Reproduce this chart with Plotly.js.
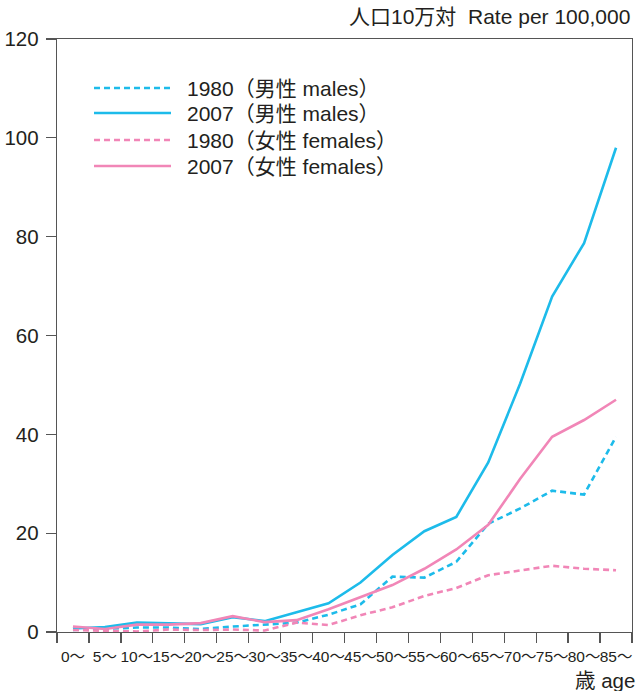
<!DOCTYPE html>
<html>
<head>
<meta charset="utf-8">
<script src="https://cdn.plot.ly/plotly-3.0.1.min.js"></script>
<style>html,body{margin:0;padding:0;background:#fff;}#chart{width:636px;height:691px;}</style>
</head>
<body>
<div id="chart"></div>
<script>
var ageGroups = ["0〜","5〜","10〜","15〜","20〜","25〜","30〜","35〜","40〜","45〜","50〜","55〜","60〜","65〜","70〜","75〜","80〜","85〜"];
var males1980   = [0.4, 0.6, 0.9, 0.9, 0.6, 1.1, 1.5, 1.9, 3.5, 5.6, 11.2, 11.0, 14.2, 21.9, 25.0, 28.6, 27.8, 39.5];
var males2007   = [0.7, 1.0, 1.9, 1.8, 1.6, 3.0, 2.2, 4.0, 5.8, 10.0, 15.6, 20.4, 23.3, 34.3, 50.3, 67.9, 78.7, 98.0];
var females1980 = [0.4, 0.2, 0.1, 0.5, 0.4, 0.5, 0.3, 1.9, 1.4, 3.4, 5.0, 7.3, 8.9, 11.5, 12.5, 13.4, 12.8, 12.5];
var females2007 = [1.1, 0.6, 1.5, 1.5, 1.8, 3.2, 2.0, 2.4, 4.6, 7.0, 9.5, 12.8, 16.7, 21.7, 31.0, 39.5, 42.9, 47.0];
var seriesNames = ["1980（男性 males）","2007（男性 males）","1980（女性 females）","2007（女性 females）"];

var BLUE = "#1dbbea", PINK = "#f186b7";
var FONT = "Liberation Sans, Arial, Noto Sans CJK JP, sans-serif";
var TXT = "#231f20";
var DASH = "6px,4px";

var styles = [
  {color: BLUE, dash: DASH},
  {color: BLUE, dash: "solid"},
  {color: PINK, dash: DASH},
  {color: PINK, dash: "solid"}
];
var data = [males1980, males2007, females1980, females2007];

var traces = data.map(function(v, i){
  return {x: ageGroups, y: v, type: "scatter", mode: "lines", name: seriesNames[i],
    line: {color: styles[i].color, width: 2.6, dash: styles[i].dash}, showlegend: false};
});

// custom legend (px -> paper)
var L = 57, R = 632, T = 39, B = 632;
function px(x){ return (x - L) / (R - L); }
function py(y){ return (B - y) / (B - T); }
var rows = [88, 113, 140, 166];
var shapes = [], annotations = [];
rows.forEach(function(y, i){
  shapes.push({type: "line", xref: "paper", yref: "paper", x0: px(94), x1: px(171), y0: py(y), y1: py(y),
    line: {color: styles[i].color, width: 2.6, dash: styles[i].dash}});
  annotations.push({xref: "paper", yref: "paper", x: px(185), y: py(y), xanchor: "left", yanchor: "middle",
    text: seriesNames[i], showarrow: false, font: {family: FONT, size: 21, color: TXT}});
});
annotations.push({xref: "paper", yref: "paper", x: px(632), y: py(17), xanchor: "right", yanchor: "middle",
  text: "人口10万対  Rate per 100,000", showarrow: false, font: {family: FONT, size: 21, color: TXT}});
annotations.push({xref: "paper", yref: "paper", x: px(637), y: py(680), xanchor: "right", yanchor: "middle",
  text: "歳 age", showarrow: false, font: {family: FONT, size: 20.5, color: TXT}});

var layout = {
  width: 636, height: 691,
  margin: {l: 57, r: 4, t: 39, b: 59},
  paper_bgcolor: "#fff", plot_bgcolor: "#fff",
  font: {family: FONT, color: TXT},
  showlegend: false,
  xaxis: {
    type: "category", range: [-0.5, 17.5], tickson: "boundaries",
    ticks: "outside", ticklen: 10, tickwidth: 1.3, tickcolor: "#555",
    showline: true, linecolor: "#555", linewidth: 1.3, mirror: true,
    showgrid: false, zeroline: false,
    tickfont: {family: FONT, size: 15.5, color: TXT}, tickangle: 0, ticklabelstandoff: 10
  },
  yaxis: {
    range: [0, 120], dtick: 20, tick0: 0,
    ticks: "outside", ticklen: 10, tickwidth: 1.3, tickcolor: "#555",
    showline: true, linecolor: "#555", linewidth: 1.3, mirror: true,
    showgrid: false, zeroline: false,
    tickfont: {family: FONT, size: 20.5, color: TXT}, ticklabelstandoff: 3
  },
  shapes: shapes,
  annotations: annotations
};

Plotly.newPlot("chart", traces, layout, {displayModeBar: false, staticPlot: true});
</script>
</body>
</html>
